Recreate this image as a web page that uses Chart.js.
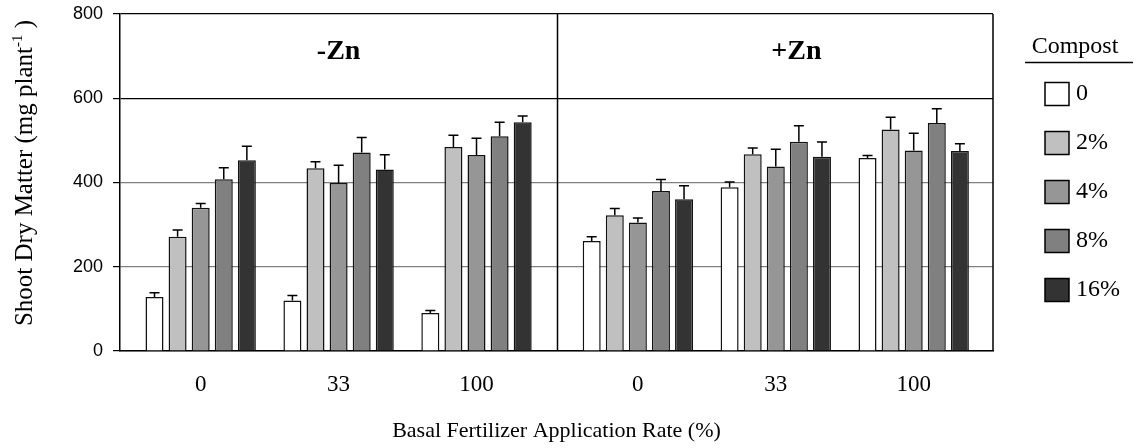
<!DOCTYPE html>
<html>
<head>
<meta charset="utf-8">
<title>Shoot Dry Matter</title>
<script src="https://cdn.jsdelivr.net/npm/chart.js@4.4.1/dist/chart.umd.min.js"></script>
<style>
  body { margin: 0; background: #fff; }
  #wrap { width: 1136px; height: 448px; }
</style>
</head>
<body>
<div id="wrap"><canvas id="barChart"></canvas></div>
<script>
// Basal fertilizer rates (%) for the -Zn panel, then the +Zn panel
const rateLabels = ['0', '33', '100', '0', '33', '100'];
const panelLabels = ['-Zn', '+Zn'];
const compostLevels = ['0', '2%', '4%', '8%', '16%'];

// Shoot dry matter (mg plant-1), one array per compost level
const compost0 = [128, 120, 90, 261, 389, 458];
const compost2 = [271, 434, 484, 322, 467, 526];
const compost4 = [340, 399, 465, 305, 438, 476];
const compost8 = [408, 471, 510, 380, 497, 541];
const compost16 = [453, 431, 543, 360, 461, 475];

// Standard errors
const err0 = [10, 12, 6, 10, 12, 6];
const err2 = [16, 15, 28, 16, 15, 29];
const err4 = [10, 42, 40, 11, 41, 41];
const err8 = [27, 36, 33, 27, 38, 34];
const err16 = [33, 35, 15, 32, 35, 17];

const yTicks = [0, 200, 400, 600, 800];

const fills = ['#ffffff', '#c0c0c0', '#969696', '#808080', '#333333'];
const serif = "'Liberation Serif', 'Times New Roman', serif";
const sans = "'Liberation Sans', Arial, sans-serif";

// groups sit one unit apart, with a wider gap between the two Zn panels
const panelGap = 0.17;
const groupPos = rateLabels.map((_, i) => i + (i >= 3 ? panelGap : 0));
const edge = 0.585;
const xMin = -edge;
const xMax = groupPos[groupPos.length - 1] + 0.575;
const divider = 2 + edge;

const seriesValues = [compost0, compost2, compost4, compost8, compost16];
const seriesErrors = [err0, err2, err4, err8, err16];

const datasets = compostLevels.map((lvl, k) => ({
  label: lvl,
  data: seriesValues[k].map((v, i) => ({ x: groupPos[i], y: v })),
  errors: seriesErrors[k],
  backgroundColor: fills[k],
  borderColor: '#111',
  borderWidth: 1.5,
  categoryPercentage: 0.837,
  barPercentage: 0.78
}));

// frame lines of the two panels and their headings
const panels = {
  id: 'panels',
  beforeDatasetsDraw(chart) {
    const { ctx, chartArea: a, scales: { x } } = chart;
    ctx.save();
    ctx.strokeStyle = '#000';
    ctx.lineWidth = 1.5;
    ctx.beginPath();
    const dx = Math.round(x.getPixelForValue(divider)) + 0.5;
    ctx.moveTo(dx, a.top);
    ctx.lineTo(dx, a.bottom);
    ctx.moveTo(a.right, a.top);
    ctx.lineTo(a.right, a.bottom);
    ctx.stroke();

    ctx.fillStyle = '#000';
    ctx.font = 'bold 28px ' + serif;
    ctx.textAlign = 'center';
    ctx.textBaseline = 'alphabetic';
    ctx.fillText(panelLabels[0], x.getPixelForValue(groupPos[1]), 59);
    ctx.fillText(panelLabels[1], x.getPixelForValue(groupPos[4] + 0.15), 59);
    ctx.restore();
  }
};

const errorBars = {
  id: 'errorBars',
  afterDatasetsDraw(chart) {
    const { ctx, scales: { y } } = chart;
    ctx.save();
    ctx.strokeStyle = '#000';
    ctx.lineWidth = 1.5;
    chart.data.datasets.forEach((ds, di) => {
      chart.getDatasetMeta(di).data.forEach((bar, i) => {
        const top = y.getPixelForValue(ds.data[i].y + ds.errors[i]);
        ctx.beginPath();
        ctx.moveTo(bar.x, bar.y);
        ctx.lineTo(bar.x, top);
        ctx.moveTo(bar.x - 5, top);
        ctx.lineTo(bar.x + 5, top);
        ctx.stroke();
      });
    });
    ctx.restore();
  }
};

// y title with a real superscript, and the compost legend on the right
const extras = {
  id: 'extras',
  afterDraw(chart) {
    const ctx = chart.ctx;
    ctx.save();
    ctx.fillStyle = '#000';

    const main = 'Shoot Dry Matter (mg plant';
    const sup = '-1';
    const tail = ' )';
    ctx.font = '25px ' + serif;
    const wMain = ctx.measureText(main).width;
    const wTail = ctx.measureText(tail).width;
    ctx.font = '15px ' + serif;
    const wSup = ctx.measureText(sup).width;
    const total = wMain + wSup + wTail;
    ctx.translate(32, 173);
    ctx.rotate(-Math.PI / 2);
    ctx.textBaseline = 'alphabetic';
    ctx.textAlign = 'left';
    let px = -total / 2;
    ctx.font = '25px ' + serif;
    ctx.fillText(main, px, 0);
    px += wMain;
    ctx.font = '15px ' + serif;
    ctx.fillText(sup, px, -10);
    px += wSup;
    ctx.font = '25px ' + serif;
    ctx.fillText(tail, px, 0);
    ctx.setTransform(1, 0, 0, 1, 0, 0);

    ctx.font = '24px ' + serif;
    ctx.textAlign = 'center';
    ctx.fillText('Compost', 1075, 53);
    ctx.strokeStyle = '#000';
    ctx.lineWidth = 1.5;
    ctx.beginPath();
    ctx.moveTo(1025, 62.5);
    ctx.lineTo(1133, 62.5);
    ctx.stroke();

    ctx.textAlign = 'left';
    ctx.textBaseline = 'middle';
    chart.data.datasets.forEach((ds, k) => {
      const cy = 94 + k * 49;
      ctx.fillStyle = ds.backgroundColor;
      ctx.fillRect(1045, cy - 11.5, 24, 23);
      ctx.strokeStyle = '#000';
      ctx.lineWidth = 1.5;
      ctx.strokeRect(1045, cy - 11.5, 24, 23);
      ctx.fillStyle = '#000';
      ctx.fillText(ds.label, 1076, cy);
    });
    ctx.restore();
  }
};

const ctx = document.getElementById('barChart').getContext('2d');
const myChart = new Chart(ctx, {
  type: 'bar',
  data: { datasets },
  options: {
    responsive: true,
    maintainAspectRatio: false,
    animation: false,
    layout: { padding: { top: 14, right: 143, left: 0, bottom: 4 } },
    plugins: {
      legend: { display: false },
      tooltip: { enabled: false }
    },
    scales: {
      x: {
        type: 'linear',
        offset: false,
        min: xMin,
        max: xMax,
        grid: { display: false, offset: false },
        border: { display: true, color: '#000', width: 1.5 },
        afterBuildTicks: scale => {
          scale.ticks = groupPos.map(v => ({ value: v }));
        },
        afterFit: scale => { scale.height = 93; },
        ticks: {
          color: '#000',
          font: { family: serif, size: 23 },
          padding: 12,
          maxRotation: 0,
          callback: value => {
            const i = groupPos.findIndex(p => Math.abs(p - value) < 1e-6);
            return i >= 0 ? rateLabels[i] : '';
          }
        },
        title: {
          display: true,
          text: 'Basal Fertilizer Application Rate (%)',
          color: '#000',
          font: { family: serif, size: 22 },
          padding: { top: 0, bottom: 0 }
        }
      },
      y: {
        min: 0,
        max: 800,
        afterBuildTicks: scale => {
          scale.ticks = yTicks.map(v => ({ value: v }));
        },
        afterFit: scale => {
          scale.width = 120;
          scale.paddingTop = 0;
          scale.paddingBottom = 0;
        },
        grid: {
          color: c => (c.tick && c.tick.value >= 600 ? '#000' : '#808080'),
          lineWidth: 1.2,
          tickLength: 7,
          tickColor: '#000'
        },
        border: { display: true, color: '#000', width: 1.5 },
        ticks: {
          color: '#000',
          font: { family: sans, size: 18 },
          padding: 10
        }
      }
    }
  },
  plugins: [panels, errorBars, extras]
});
</script>
</body>
</html>
